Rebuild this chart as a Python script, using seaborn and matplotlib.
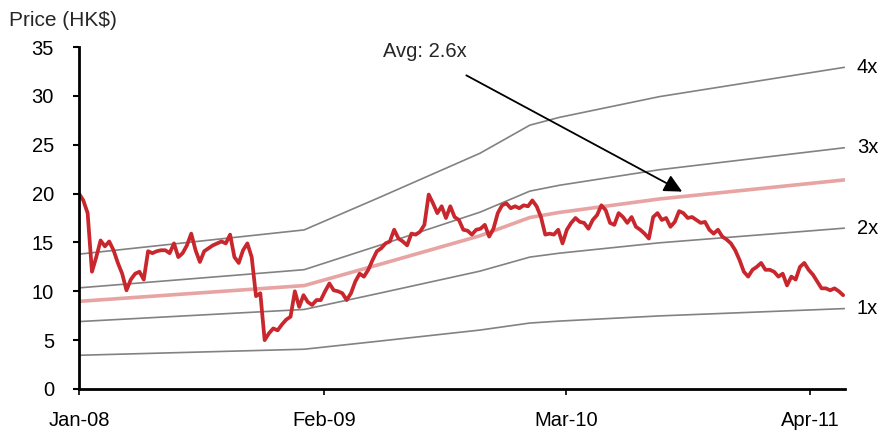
import matplotlib
matplotlib.use("Agg")
import matplotlib.pyplot as plt
import seaborn as sns
import pandas as pd
import numpy as np

# ---- data ----
price = [20.0, 19.3, 18.0, 12.0, 13.5, 15.2, 14.6, 15.1, 14.2, 12.9,
         11.8, 10.1, 11.2, 11.8, 12.0, 11.2, 14.1, 13.9, 14.1, 14.2,
         14.2, 13.9, 14.9, 13.5, 13.9, 14.7, 15.9, 14.2, 13.0, 14.1,
         14.4, 14.7, 14.9, 15.1, 14.9, 15.8, 13.5, 12.9, 14.2, 14.9,
         13.5, 9.5, 9.8, 5.0, 5.7, 6.2, 6.0, 6.6, 7.1, 7.4,
         10.0, 8.4, 9.6, 8.9, 8.6, 9.1, 9.1, 10.0, 10.8, 10.1,
         10.0, 9.8, 9.1, 9.8, 11.0, 11.8, 11.5, 12.2, 13.2, 14.1,
         14.4, 14.9, 15.1, 16.3, 15.4, 15.1, 14.7, 15.9, 15.8, 16.1,
         16.8, 19.9, 19.0, 18.0, 18.7, 17.5, 18.7, 17.6, 17.3, 16.3,
         16.2, 15.8, 16.3, 16.4, 16.8, 15.6, 16.4, 18.0, 18.8, 19.0,
         18.5, 18.7, 18.5, 18.8, 18.7, 19.3, 18.7, 17.6, 15.8, 15.9,
         15.8, 16.3, 14.9, 16.3, 17.0, 17.5, 17.1, 17.0, 16.4, 17.3,
         17.8, 18.8, 18.3, 17.0, 16.8, 18.0, 17.6, 17.0, 17.6, 16.6,
         16.3, 15.9, 15.4, 17.6, 18.0, 17.3, 17.5, 16.6, 17.1, 18.2,
         18.0, 17.5, 17.6, 17.3, 17.0, 17.1, 16.3, 15.9, 16.3, 15.6,
         15.3, 14.9, 14.2, 13.2, 12.0, 11.5, 12.2, 12.5, 12.9, 12.2,
         12.2, 12.0, 11.5, 11.8, 10.6, 11.5, 11.2, 12.5, 12.9, 12.2,
         11.7, 11.0, 10.3, 10.3, 10.1, 10.3, 10.0, 9.6]
price_start = "2008-01-01"

bvps_dates = ["2008-01-01", "2008-12-31", "2009-05-02", "2009-10-12",
              "2010-01-01", "2010-02-18", "2010-07-30", "2011-05-26"]
bvps = [3.45, 4.07, 4.90, 6.03, 6.75, 6.95, 7.48, 8.23]

band_multiples = [1, 2, 3, 4]
band_labels = ["1x", "2x", "3x", "4x"]
avg_multiple = 2.6
avg_label = "Avg: 2.6x"

tick_dates = ["2008-01-01", "2009-02-01", "2010-03-01", "2011-04-01"]
tick_labels = ["Jan-08", "Feb-09", "Mar-10", "Apr-11"]
y_ticks = [0, 5, 10, 15, 20, 25, 30, 35]
y_label = "Price (HK$)"

# ---- frames ----
price_df = pd.DataFrame({
    "date": pd.date_range(price_start, periods=len(price), freq="7D"),
    "price": price,
})
bv_dates = pd.to_datetime(bvps_dates)
bv = np.array(bvps)

# ---- style ----
sns.set_theme(style="ticks")
plt.rcParams["font.family"] = ["Liberation Sans", "DejaVu Sans"]

fig = plt.figure(figsize=(8.81, 4.41), dpi=100)
ax = fig.add_axes([79 / 881, 1 - 389 / 441, (845 - 79) / 881, (389 - 47) / 441])

GRAY = "#828282"
for m, lab in zip(band_multiples, band_labels):
    sns.lineplot(x=bv_dates, y=bv * m, ax=ax, color=GRAY, lw=1.2)
    ax.annotate(lab, xy=(bv_dates[-1], bv[-1] * m), xytext=(9, 0),
                textcoords="offset points", ha="left", va="center",
                fontsize=14.5, color="black", annotation_clip=False)

sns.lineplot(x=bv_dates, y=bv * avg_multiple, ax=ax, color="#e8a3a3", lw=2.6)
sns.lineplot(data=price_df, x="date", y="price", ax=ax, color="#c8272d", lw=2.7)

ax.annotate("", xy=(pd.Timestamp("2010-09-05"), 20.2),
            xytext=(pd.Timestamp("2009-09-20"), 32.1),
            arrowprops=dict(arrowstyle="-|>,head_length=0.9,head_width=0.45",
                            color="black", lw=1.3, shrinkA=0, shrinkB=0))
ax.text(pd.Timestamp("2009-05-08"), 34.5, avg_label, ha="left", va="center",
        fontsize=14.5)

ax.set_xlim(pd.Timestamp("2008-01-01"), pd.Timestamp("2011-05-27"))
ax.set_ylim(0, 35)
ax.set_yticks(y_ticks)
ax.set_xticks(pd.to_datetime(tick_dates))
ax.set_xticklabels(tick_labels)
ax.set_xlabel("")
ax.set_ylabel("")

for s in ["top", "right"]:
    ax.spines[s].set_visible(False)
for s in ["left", "bottom"]:
    ax.spines[s].set_color("black")
    ax.spines[s].set_linewidth(2.0)
ax.tick_params(axis="y", length=4, width=1.5, color="black", pad=14,
               labelsize=14.5, labelcolor="black")
ax.tick_params(axis="x", length=4, width=1.2, color="black", pad=12,
               labelsize=14.5, labelcolor="black")

fig.text(9 / 881, 1 - 20 / 441, y_label, ha="left", va="center", fontsize=15)

fig.savefig("out.png", dpi=100)
